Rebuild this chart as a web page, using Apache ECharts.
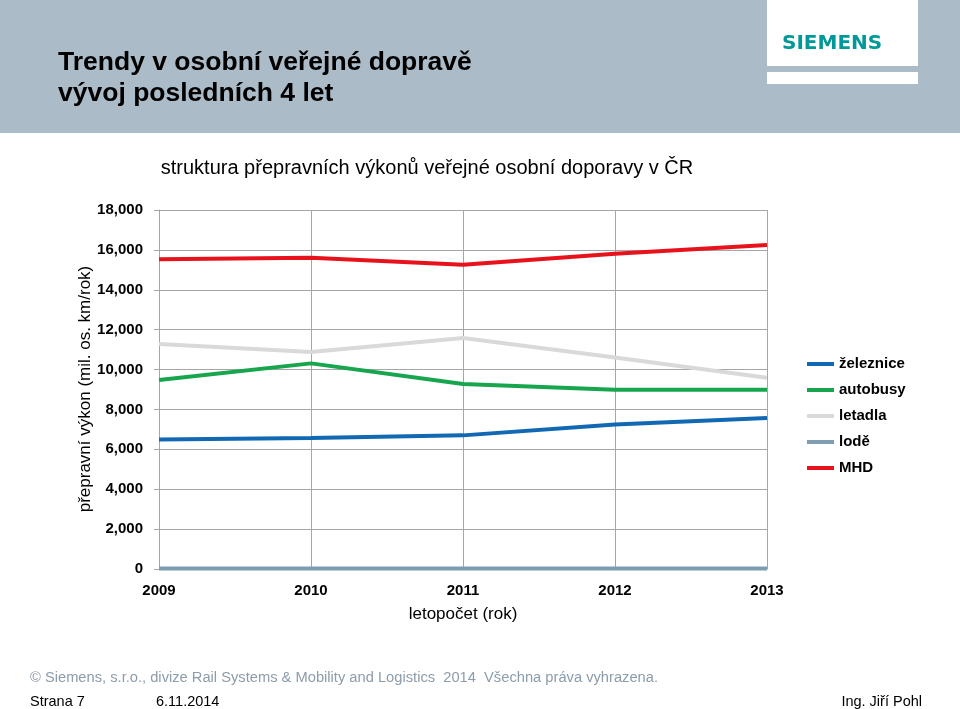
<!DOCTYPE html>
<html>
<head>
<meta charset="utf-8">
<script src="https://cdn.jsdelivr.net/npm/echarts@6/dist/echarts.min.js"></script>
<style>html,body{margin:0;padding:0;background:#fff}#c{width:960px;height:709px}</style>
</head>
<body>
<div id="c"></div>
<script>
const years = ['2009','2010','2011','2012','2013'];
const zeleznice = [6490, 6570, 6700, 7240, 7570];
const autobusy = [9480, 10310, 9280, 8990, 8990];
const letadla = [11280, 10880, 11580, 10600, 9590];
const lode = [20, 20, 20, 20, 20];
const mhd = [15530, 15610, 15260, 15810, 16250];
const seriesNames = ['železnice','autobusy','letadla','lodě','MHD'];
const seriesColors = ['#1168b3','#17a64d','#d9d9d9','#7f9db2','#e8121c'];
const seriesData = [zeleznice, autobusy, letadla, lode, mhd];
const yAxisName = 'přepravní výkon (mil. os. km/rok)';

const chart = echarts.init(document.getElementById('c'), null, {renderer:'canvas'});
const sans = '"Liberation Sans",Arial,sans-serif';
chart.setOption({
  animation:false,
  backgroundColor:'#ffffff',
  graphic:[
    {type:'rect', shape:{x:0,y:0,width:960,height:133}, style:{fill:'#abbcc8'}, z:-10},
    {type:'rect', shape:{x:767,y:0,width:151,height:66}, style:{fill:'#ffffff'}, z:-9},
    {type:'rect', shape:{x:767,y:72,width:151,height:12}, style:{fill:'#ffffff'}, z:-9},
    {type:'text', left:782, top:34, style:{text:'SIEMENS', font:'bold 20px "DejaVu Sans",sans-serif', fill:'#009999'}},
    {type:'text', left:58, top:47, style:{text:'Trendy v osobní veřejné dopravě\nvývoj posledních 4 let', font:'bold 26.5px '+sans, fill:'#000', lineHeight:31}},
    {type:'text', x:85, y:389, rotation:Math.PI/2,
      style:{text:yAxisName, font:'17px '+sans, fill:'#000', align:'center', verticalAlign:'middle'}},
    {type:'text', left:30, top:670, style:{text:'© Siemens, s.r.o., divize Rail Systems & Mobility and Logistics  2014  Všechna práva vyhrazena.', font:'14.7px '+sans, fill:'#8c9cab'}},
    {type:'text', left:30, top:694, style:{text:'Strana 7', font:'14.5px '+sans, fill:'#000'}},
    {type:'text', left:156, top:694, style:{text:'6.11.2014', font:'14.5px '+sans, fill:'#000'}},
    {type:'text', right:38, top:694, style:{text:'Ing. Jiří Pohl', font:'14.5px '+sans, fill:'#000'}}
  ],
  title:{
    text:'struktura přepravních výkonů veřejné osobní doporavy v ČR',
    left:422, top:153, textAlign:'center',
    textStyle:{fontFamily:sans, fontSize:20, fontWeight:'normal', color:'#000'}
  },
  legend:{
    orient:'vertical', left:802, top:350,
    icon:'rect', itemWidth:27, itemHeight:4, itemGap:8,
    textStyle:{fontFamily:sans, fontSize:15, fontWeight:'bold', color:'#000', lineHeight:18},
    data:seriesNames
  },
  grid:{left:159, top:210, width:608, height:359, containLabel:false},
  xAxis:{
    type:'category', data:years, boundaryGap:false,
    name:'letopočet (rok)', nameLocation:'middle', nameGap:37,
    nameTextStyle:{fontFamily:sans, fontSize:17, color:'#000'},
    axisLine:{lineStyle:{color:'#a6a6a6'}},
    axisTick:{show:false},
    axisLabel:{fontFamily:sans, fontSize:15, fontWeight:'bold', color:'#000', margin:14},
    splitLine:{show:true, lineStyle:{color:'#a6a6a6', width:1}}
  },
  yAxis:{
    type:'value', min:0, max:18000, interval:2000,
    axisLine:{show:true, lineStyle:{color:'#a6a6a6'}},
    axisTick:{show:true, length:5, lineStyle:{color:'#a6a6a6'}},
    axisLabel:{fontFamily:sans, fontSize:15, fontWeight:'bold', color:'#000', margin:16,
      formatter:v=>v.toLocaleString('en-US')},
    splitLine:{show:true, lineStyle:{color:'#a6a6a6', width:1}}
  },
  series: seriesNames.map((n,i)=>({
    name:n, type:'line', data:seriesData[i], symbol:'none',
    lineStyle:{width:4, color:seriesColors[i]}, itemStyle:{color:seriesColors[i]},
    z: i===3 ? 1 : 2
  }))
});
</script>
</body>
</html>
